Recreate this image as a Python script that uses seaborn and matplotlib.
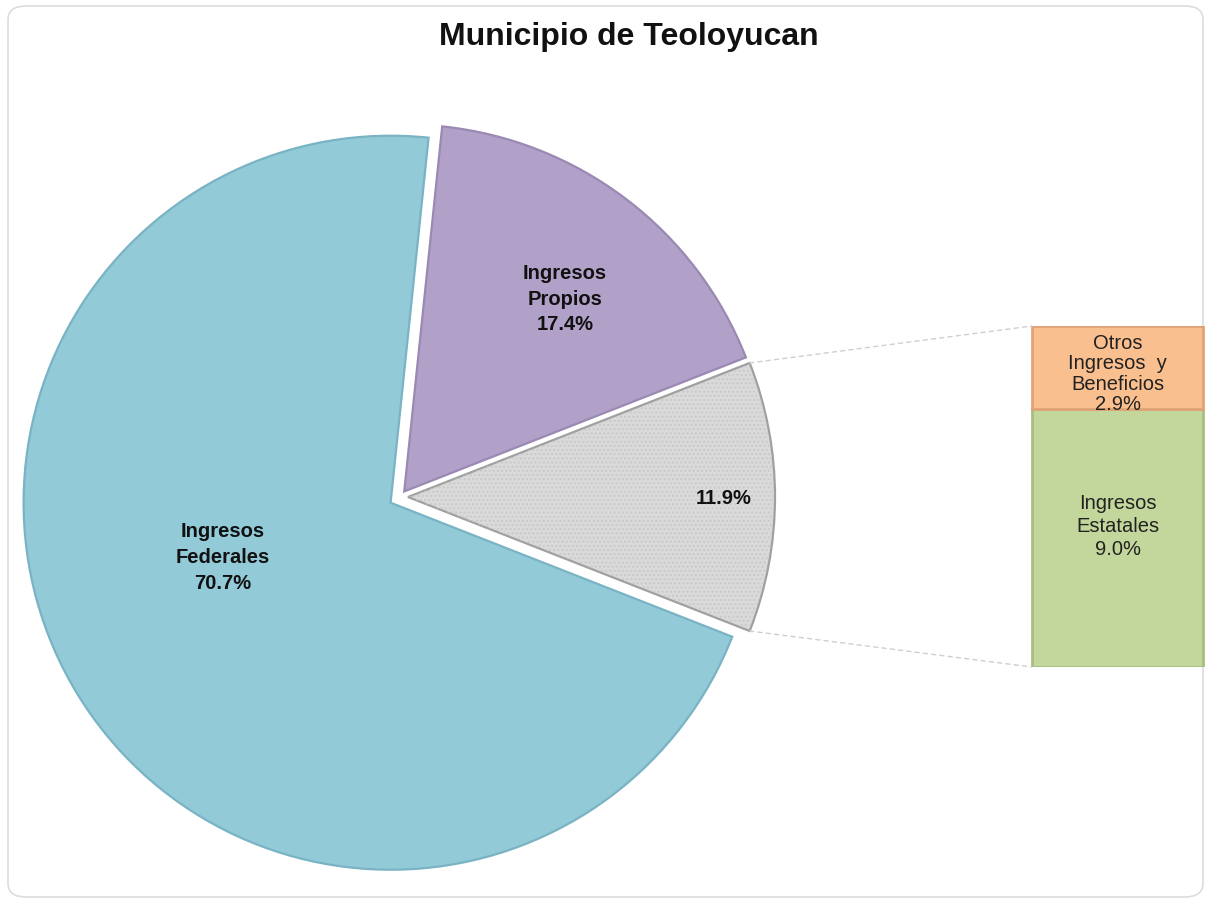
import numpy as np
import matplotlib
matplotlib.use("Agg")
import matplotlib.pyplot as plt
import seaborn as sns
from matplotlib.patches import FancyBboxPatch, ConnectionPatch, Wedge

# ---- data ----
pie_labels = ["Otros", "Ingresos Propios", "Ingresos Federales"]
pie_values = [11.9, 17.4, 70.7]
pie_texts = ["11.9%", "Ingresos\nPropios\n17.4%", "Ingresos\nFederales\n70.7%"]
bar_labels = ["Ingresos Estatales", "Otros Ingresos y Beneficios"]
bar_values = [9.0, 2.9]
bar_texts = ["Ingresos\nEstatales\n9.0%", "Otros\nIngresos  y\nBeneficios\n2.9%"]
title = "Municipio de Teoloyucan"

pie_colors = ["#DADADA", "#B1A0C7", "#92CAD8"]
pie_edges = ["#A0A0A0", "#9A89B2", "#79B3C4"]
bar_colors = ["#C3D69B", "#FABF8F"]
bar_edges = ["#A9BE80", "#E0A377"]

sns.set_theme(style="white")
plt.rcParams['font.family'] = ['Liberation Sans', 'DejaVu Sans']

W, H = 1211, 903
fig = plt.figure(figsize=(W / 100, H / 100), dpi=100)
fig.patch.set_facecolor("white")

# rounded frame
frame = FancyBboxPatch((8 / W, 5 / H), (W - 16) / W, (H - 12) / H,
                       boxstyle="round,pad=0,rounding_size=0.015",
                       transform=fig.transFigure, facecolor="white",
                       edgecolor="#DDDDDD", linewidth=1.2, zorder=-5)
fig.patches.append(frame)

ax = fig.add_axes([0, 0, 1, 1])
ax.set_zorder(1)
center = (400, 405)
radius = 367
total = sum(pie_values)
start = -360 * pie_values[0] / total / 2
explode = [8.0, 7.0, 11.0]
wedges, _ = ax.pie(pie_values, colors=pie_colors, startangle=start,
                   counterclock=True, explode=explode, center=center,
                   radius=radius, frame=True,
                   wedgeprops=dict(linewidth=1.6))
ax.set_xlim(0, W)
ax.set_ylim(0, H)
ax.set_aspect("equal")
ax.axis("off")
for w, ec in zip(wedges, pie_edges):
    w.set_edgecolor(ec)
# dotted texture on gray slice
w0 = wedges[0]
tex = Wedge(w0.center, w0.r - 2, w0.theta1 + 0.3, w0.theta2 - 0.3,
            facecolor="none", edgecolor="#C9C9C9", linewidth=0, hatch="....")
ax.add_patch(tex)

# labels inside wedges (radial fraction, angular offset from mid-angle)
label_pos = [(0.86, 0.0), (0.685, -2.5), (0.48, -13.5)]
for w, txt, (d, dang) in zip(wedges, pie_texts, label_pos):
    ang = np.deg2rad((w.theta1 + w.theta2) / 2 + dang)
    cx, cy = w.center
    x = cx + d * w.r * np.cos(ang)
    y = cy + d * w.r * np.sin(ang)
    ax.text(x, y, txt, ha="center", va="center", fontsize=14.5,
            fontweight="bold", color="#111111", linespacing=1.45)

# bar axes (stacked)
bx0, bx1, by_top, by_bot = 1030, 1205, 327, 668
bax = fig.add_axes([bx0 / W, (H - by_bot) / H, (bx1 - bx0) / W, (by_bot - by_top) / H])
bax.set_zorder(2)
text_shift = [9, -4]   # points
text_ls = [1.25, 1.1]
bottom = 0
for i, (lab, v) in enumerate(zip(bar_labels, bar_values)):
    bax.bar([0], [v], bottom=bottom, width=0.98, color=bar_colors[i],
            edgecolor=bar_edges[i], linewidth=2)
    bax.annotate(bar_texts[i], (0, bottom + v / 2), xytext=(0, text_shift[i]),
                 textcoords="offset points", ha="center", va="center",
                 fontsize=14.5, color="#222222", linespacing=text_ls[i])
    bottom += v
bax.set_xlim(-0.5, 0.5)
bax.set_ylim(0, sum(bar_values))
bax.axis("off")

# connector lines
cx, cy = w0.center
for th, yb in [(w0.theta2, sum(bar_values)), (w0.theta1, 0)]:
    px = cx + w0.r * np.cos(np.deg2rad(th))
    py = cy + w0.r * np.sin(np.deg2rad(th))
    con = ConnectionPatch(xyA=(px, py), coordsA=ax.transData,
                          xyB=(-0.49, yb), coordsB=bax.transData,
                          color="#CFCFCF", linestyle=(0, (3, 3)), linewidth=1.0,
                          zorder=3)
    fig.add_artist(con)

fig.text(629 / W, (H - 37) / H, title, ha="center", va="center",
         fontsize=23, fontweight="bold", color="#111111")

fig.savefig("out.png", dpi=100, facecolor="white")
